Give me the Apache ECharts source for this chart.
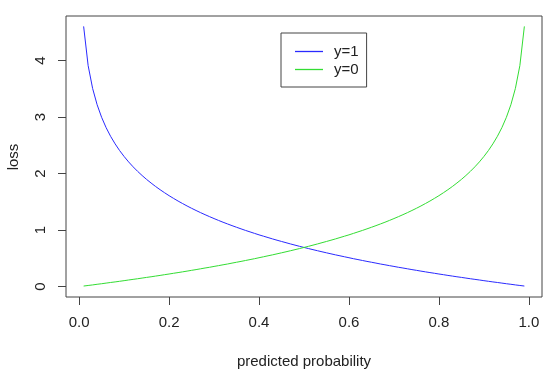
<!DOCTYPE html>
<html><head><meta charset="utf-8">
<script src="https://cdn.jsdelivr.net/npm/echarts@6/dist/echarts.min.js"></script>
<style>html,body{margin:0;padding:0;background:#fff}#c{width:554px;height:375px}</style>
</head><body><div id="c"></div>
<script>
var probs = [0.01,0.02,0.03,0.04,0.05,0.06,0.07,0.08,0.09,0.10,
0.11,0.12,0.13,0.14,0.15,0.16,0.17,0.18,0.19,0.20,
0.21,0.22,0.23,0.24,0.25,0.26,0.27,0.28,0.29,0.30,
0.31,0.32,0.33,0.34,0.35,0.36,0.37,0.38,0.39,0.40,
0.41,0.42,0.43,0.44,0.45,0.46,0.47,0.48,0.49,0.50,
0.51,0.52,0.53,0.54,0.55,0.56,0.57,0.58,0.59,0.60,
0.61,0.62,0.63,0.64,0.65,0.66,0.67,0.68,0.69,0.70,
0.71,0.72,0.73,0.74,0.75,0.76,0.77,0.78,0.79,0.80,
0.81,0.82,0.83,0.84,0.85,0.86,0.87,0.88,0.89,0.90,
0.91,0.92,0.93,0.94,0.95,0.96,0.97,0.98,0.99];
var lossY1 = [4.605,3.912,3.507,3.219,2.996,2.813,2.659,2.526,2.408,2.303,
2.207,2.120,2.040,1.966,1.897,1.833,1.772,1.715,1.661,1.609,
1.561,1.514,1.470,1.427,1.386,1.347,1.309,1.273,1.238,1.204,
1.171,1.139,1.109,1.079,1.050,1.022,0.994,0.968,0.942,0.916,
0.892,0.868,0.844,0.821,0.799,0.777,0.755,0.734,0.713,0.693,
0.673,0.654,0.635,0.616,0.598,0.580,0.562,0.545,0.528,0.511,
0.494,0.478,0.462,0.446,0.431,0.416,0.400,0.386,0.371,0.357,
0.342,0.329,0.315,0.301,0.288,0.274,0.261,0.248,0.236,0.223,
0.211,0.198,0.186,0.174,0.163,0.151,0.139,0.128,0.117,0.105,
0.094,0.083,0.073,0.062,0.051,0.041,0.030,0.020,0.010];
var lossY0 = [0.010,0.020,0.030,0.041,0.051,0.062,0.073,0.083,0.094,0.105,
0.117,0.128,0.139,0.151,0.163,0.174,0.186,0.198,0.211,0.223,
0.236,0.248,0.261,0.274,0.288,0.301,0.315,0.329,0.342,0.357,
0.371,0.386,0.400,0.416,0.431,0.446,0.462,0.478,0.494,0.511,
0.528,0.545,0.562,0.580,0.598,0.616,0.635,0.654,0.673,0.693,
0.713,0.734,0.755,0.777,0.799,0.821,0.844,0.868,0.892,0.916,
0.942,0.968,0.994,1.022,1.050,1.079,1.109,1.139,1.171,1.204,
1.238,1.273,1.309,1.347,1.386,1.427,1.470,1.514,1.561,1.609,
1.661,1.715,1.772,1.833,1.897,1.966,2.040,2.120,2.207,2.303,
2.408,2.526,2.659,2.813,2.996,3.219,3.507,3.912,4.605];
var xTicks = [0, 0.2, 0.4, 0.6, 0.8, 1.0];
var yTicks = [0, 1, 2, 3, 4];
var seriesNames = ['y=1', 'y=0'];
var xTitle = 'predicted probability';
var yTitle = 'loss';

function pairs(xs, ys){ var out=[]; for(var i=0;i<xs.length;i++) out.push([xs[i], ys[i]]); return out; }

var font = 'Liberation Sans, Arial, sans-serif';
var blue = '#2a2aff', green = '#33dd33';
var chart = echarts.init(document.getElementById('c'), null, {renderer:'canvas'});
chart.setOption({
  animation: false,
  backgroundColor: '#fff',
  grid: {left: 66, right: 12, top: 16, bottom: 78, show: true, borderColor: '#444', borderWidth: 1, backgroundColor: 'transparent'},
  xAxis: {
    type: 'value', min: -0.0292, max: 1.0292,
    axisLine: {show: false, onZero: false},
    splitLine: {show: false},
    axisTick: {show: true, length: 8, customValues: xTicks, lineStyle: {color: '#444'}},
    axisLabel: {customValues: xTicks, formatter: function(v){return v.toFixed(1);}, fontFamily: font, fontSize: 15, color: '#222', margin: 18}
  },
  yAxis: {
    type: 'value', min: -0.184, max: 4.789,
    axisLine: {show: false, onZero: false},
    splitLine: {show: false},
    axisTick: {show: true, length: 8, customValues: yTicks, lineStyle: {color: '#444'}},
    axisLabel: {customValues: yTicks, rotate: 90, formatter: function(v){return String(v);}, fontFamily: font, fontSize: 15, color: '#222', margin: 18}
  },
  legend: {
    orient: 'vertical', left: 281, top: 33,
    padding: [11, 8, 10, 14],
    icon: 'rect',
    itemWidth: 28, itemHeight: 1.3, itemGap: 3,
    borderColor: '#444', borderWidth: 1, borderRadius: 0,
    textStyle: {fontFamily: font, fontSize: 15, lineHeight: 14, color: '#222', padding: [0,0,0,6]},
    data: seriesNames
  },
  graphic: [
    {type: 'text', x: 304, y: 362, style: {text: xTitle, textAlign: 'center', textVerticalAlign: 'middle', font: '15px ' + font, fill: '#222'}},
    {type: 'text', rotation: Math.PI/2, x: 14, y: 157, style: {text: yTitle, textAlign: 'center', textVerticalAlign: 'middle', font: '15px ' + font, fill: '#222'}}
  ],
  series: [
    {name: seriesNames[0], type: 'line', data: pairs(probs, lossY1), symbol: 'none', lineStyle: {color: blue, width: 1}, itemStyle: {color: blue}},
    {name: seriesNames[1], type: 'line', data: pairs(probs, lossY0), symbol: 'none', lineStyle: {color: green, width: 1}, itemStyle: {color: green}}
  ]
});
</script></body></html>
